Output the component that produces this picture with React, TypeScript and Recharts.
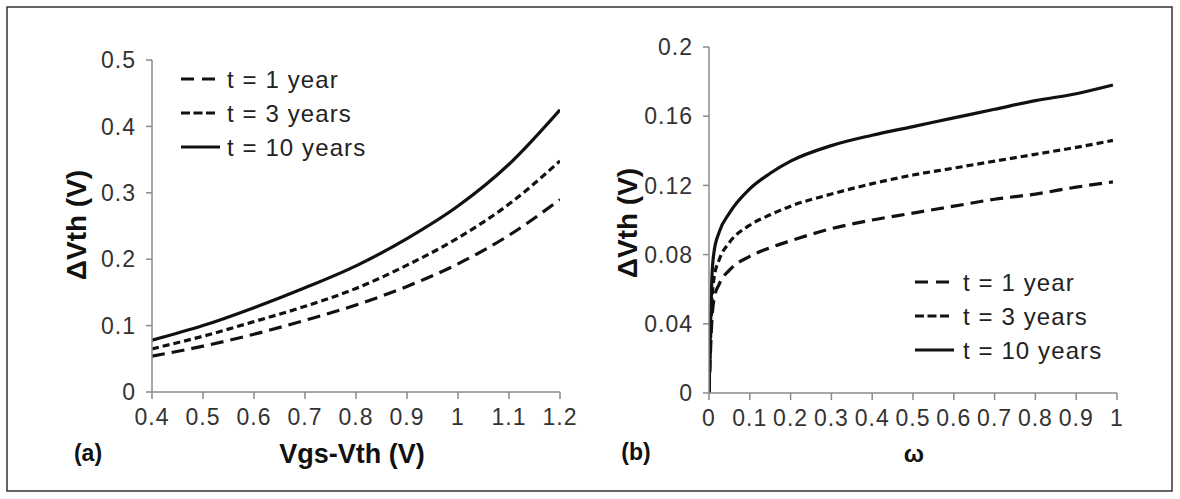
import React from 'react';
import { LineChart, Line, XAxis, YAxis, Legend } from 'recharts';

// panel (a): threshold shift vs overdrive voltage
const LEFT_X = [0.4, 0.5, 0.6, 0.7, 0.8, 0.9, 1.0, 1.1, 1.2];
const LEFT_1Y = [0.054, 0.069, 0.087, 0.108, 0.131, 0.159, 0.193, 0.236, 0.29];
const LEFT_3Y = [0.065, 0.084, 0.106, 0.129, 0.156, 0.191, 0.232, 0.283, 0.348];
const LEFT_10Y = [0.078, 0.1, 0.127, 0.157, 0.19, 0.231, 0.28, 0.343, 0.425];
const LEFT_XTICKS = [0.4, 0.5, 0.6, 0.7, 0.8, 0.9, 1, 1.1, 1.2];
const LEFT_YTICKS = [0, 0.1, 0.2, 0.3, 0.4, 0.5];

// panel (b): threshold shift vs duty factor
const RIGHT_X = [0, 0.003, 0.007, 0.012, 0.025, 0.05, 0.1, 0.15, 0.2, 0.3, 0.4, 0.5, 0.6, 0.7, 0.8, 0.9, 0.99];
const RIGHT_1Y = [0, 0.02, 0.042, 0.054, 0.063, 0.071, 0.079, 0.084, 0.088, 0.095, 0.1, 0.104, 0.108, 0.112, 0.115, 0.119, 0.122];
const RIGHT_3Y = [0, 0.025, 0.052, 0.066, 0.077, 0.087, 0.097, 0.103, 0.108, 0.115, 0.121, 0.126, 0.13, 0.134, 0.138, 0.142, 0.146];
const RIGHT_10Y = [0, 0.032, 0.066, 0.081, 0.093, 0.104, 0.118, 0.127, 0.134, 0.143, 0.149, 0.154, 0.159, 0.164, 0.169, 0.173, 0.178];
const RIGHT_XTICKS = [0, 0.1, 0.2, 0.3, 0.4, 0.5, 0.6, 0.7, 0.8, 0.9, 1];
const RIGHT_YTICKS = [0, 0.04, 0.08, 0.12, 0.16, 0.2];

const SERIES = [
  { key: 'y1', name: 't = 1 year', dash: '13 7', legendDash: '13 8', len: 34 },
  { key: 'y3', name: 't = 3 years', dash: '7 4', legendDash: '9 3.5', len: 34 },
  { key: 'y10', name: 't = 10 years', dash: undefined, legendDash: undefined, len: 39 },
];

const FONT = '"Liberation Sans", Arial, Helvetica, sans-serif';
const INK = '#111111';
const AXIS = { stroke: '#8a8a8a', strokeWidth: 1.5 };
const TICK = { fontSize: 23, fill: '#333333', fontFamily: FONT, letterSpacing: 1 };

const leftData = LEFT_X.map((x, i) => ({ x, y1: LEFT_1Y[i], y3: LEFT_3Y[i], y10: LEFT_10Y[i] }));
const rightData = RIGHT_X.map((x, i) => ({ x, y1: RIGHT_1Y[i], y3: RIGHT_3Y[i], y10: RIGHT_10Y[i] }));

function LegendBox({ textX }: { textX: number }) {
  return (
    <svg width={230} height={110} style={{ overflow: 'visible' }}>
      {SERIES.map((s, i) => {
        const y = 17 + i * 34;
        return (
          <g key={s.key}>
            <line x1={0} x2={s.len} y1={y} y2={y} stroke={INK} strokeWidth={3.2} strokeDasharray={s.legendDash} />
            <text x={textX} y={y + 8.5} fontSize={24} letterSpacing={1.1} fontFamily={FONT} fill="#222">
              {s.name}
            </text>
          </g>
        );
      })}
    </svg>
  );
}

function Panel({
  data,
  xTicks,
  yTicks,
  xDomain,
  yDomain,
  margin,
  legendPos,
  legendTextX,
}: {
  data: Record<string, number>[];
  xTicks: number[];
  yTicks: number[];
  xDomain: [number, number];
  yDomain: [number, number];
  margin: { top: number; right: number; bottom: number; left: number };
  legendPos: { left: number; top: number };
  legendTextX: number;
}) {
  return (
    <LineChart width={600} height={499} data={data} margin={margin}>
      <XAxis
        dataKey="x"
        type="number"
        domain={xDomain}
        ticks={xTicks}
        allowDataOverflow
        height={30}
        tickSize={7}
        tickMargin={10}
        axisLine={AXIS}
        tickLine={AXIS}
        tick={TICK}
        interval={0}
      />
      <YAxis
        type="number"
        domain={yDomain}
        ticks={yTicks}
        allowDataOverflow
        width={60}
        tickSize={6}
        tickMargin={10}
        axisLine={AXIS}
        tickLine={AXIS}
        tick={TICK}
        interval={0}
      />
      <Legend
        verticalAlign="middle"
        align="center"
        content={() => <LegendBox textX={legendTextX} />}
        wrapperStyle={{ left: legendPos.left, top: legendPos.top, width: 230 }}
      />
      {SERIES.map((s) => (
        <Line
          key={s.key}
          type="monotone"
          dataKey={s.key}
          name={s.name}
          stroke={INK}
          strokeWidth={3.2}
          strokeDasharray={s.dash}
          dot={false}
          activeDot={false}
          isAnimationActive={false}
        />
      ))}
    </LineChart>
  );
}

export default function App() {
  return (
    <div style={{ position: 'absolute', left: 0, top: 0, width: 1180, height: 499, background: '#fff' }}>
      <div style={{ position: 'absolute', left: 0, top: 0 }}>
        <Panel
          data={leftData}
          xTicks={LEFT_XTICKS}
          yTicks={LEFT_YTICKS}
          xDomain={[0.4, 1.2]}
          yDomain={[0, 0.5]}
          margin={{ top: 60, right: 40, bottom: 77, left: 92 }}
          legendPos={{ left: 181, top: 62 }}
          legendTextX={46}
        />
      </div>
      <div style={{ position: 'absolute', left: 580, top: 0 }}>
        <Panel
          data={rightData}
          xTicks={RIGHT_XTICKS}
          yTicks={RIGHT_YTICKS}
          xDomain={[0, 1]}
          yDomain={[0, 0.2]}
          margin={{ top: 47, right: 63, bottom: 76, left: 69 }}
          legendPos={{ left: 335, top: 265 }}
          legendTextX={48}
        />
      </div>
      <svg
        width={1180}
        height={499}
        style={{ position: 'absolute', left: 0, top: 0, pointerEvents: 'none' }}
        fontFamily={FONT}
      >
        <rect x={7} y={7} width={1165} height={484} fill="none" stroke="#333" strokeWidth={1.5} />
        <text x={76} y={225} transform="rotate(-90 76 225)" textAnchor="middle" dominantBaseline="central" fontSize={28} fontWeight="bold" fill={INK}>
          ΔVth (V)
        </text>
        <text x={627} y={223} transform="rotate(-90 627 223)" textAnchor="middle" dominantBaseline="central" fontSize={28} fontWeight="bold" fill={INK}>
          ΔVth (V)
        </text>
        <text x={352} y={454} textAnchor="middle" dominantBaseline="central" fontSize={27} fontWeight="bold" fill={INK}>
          Vgs-Vth (V)
        </text>
        <text x={914} y={453} textAnchor="middle" dominantBaseline="central" fontSize={24} fontWeight="bold" fill={INK}>
          ω
        </text>
        <text x={88} y={453} textAnchor="middle" dominantBaseline="central" fontSize={23} fontWeight="bold" fill={INK}>
          (a)
        </text>
        <text x={636} y={452} textAnchor="middle" dominantBaseline="central" fontSize={23} fontWeight="bold" fill={INK}>
          (b)
        </text>
      </svg>
    </div>
  );
}
